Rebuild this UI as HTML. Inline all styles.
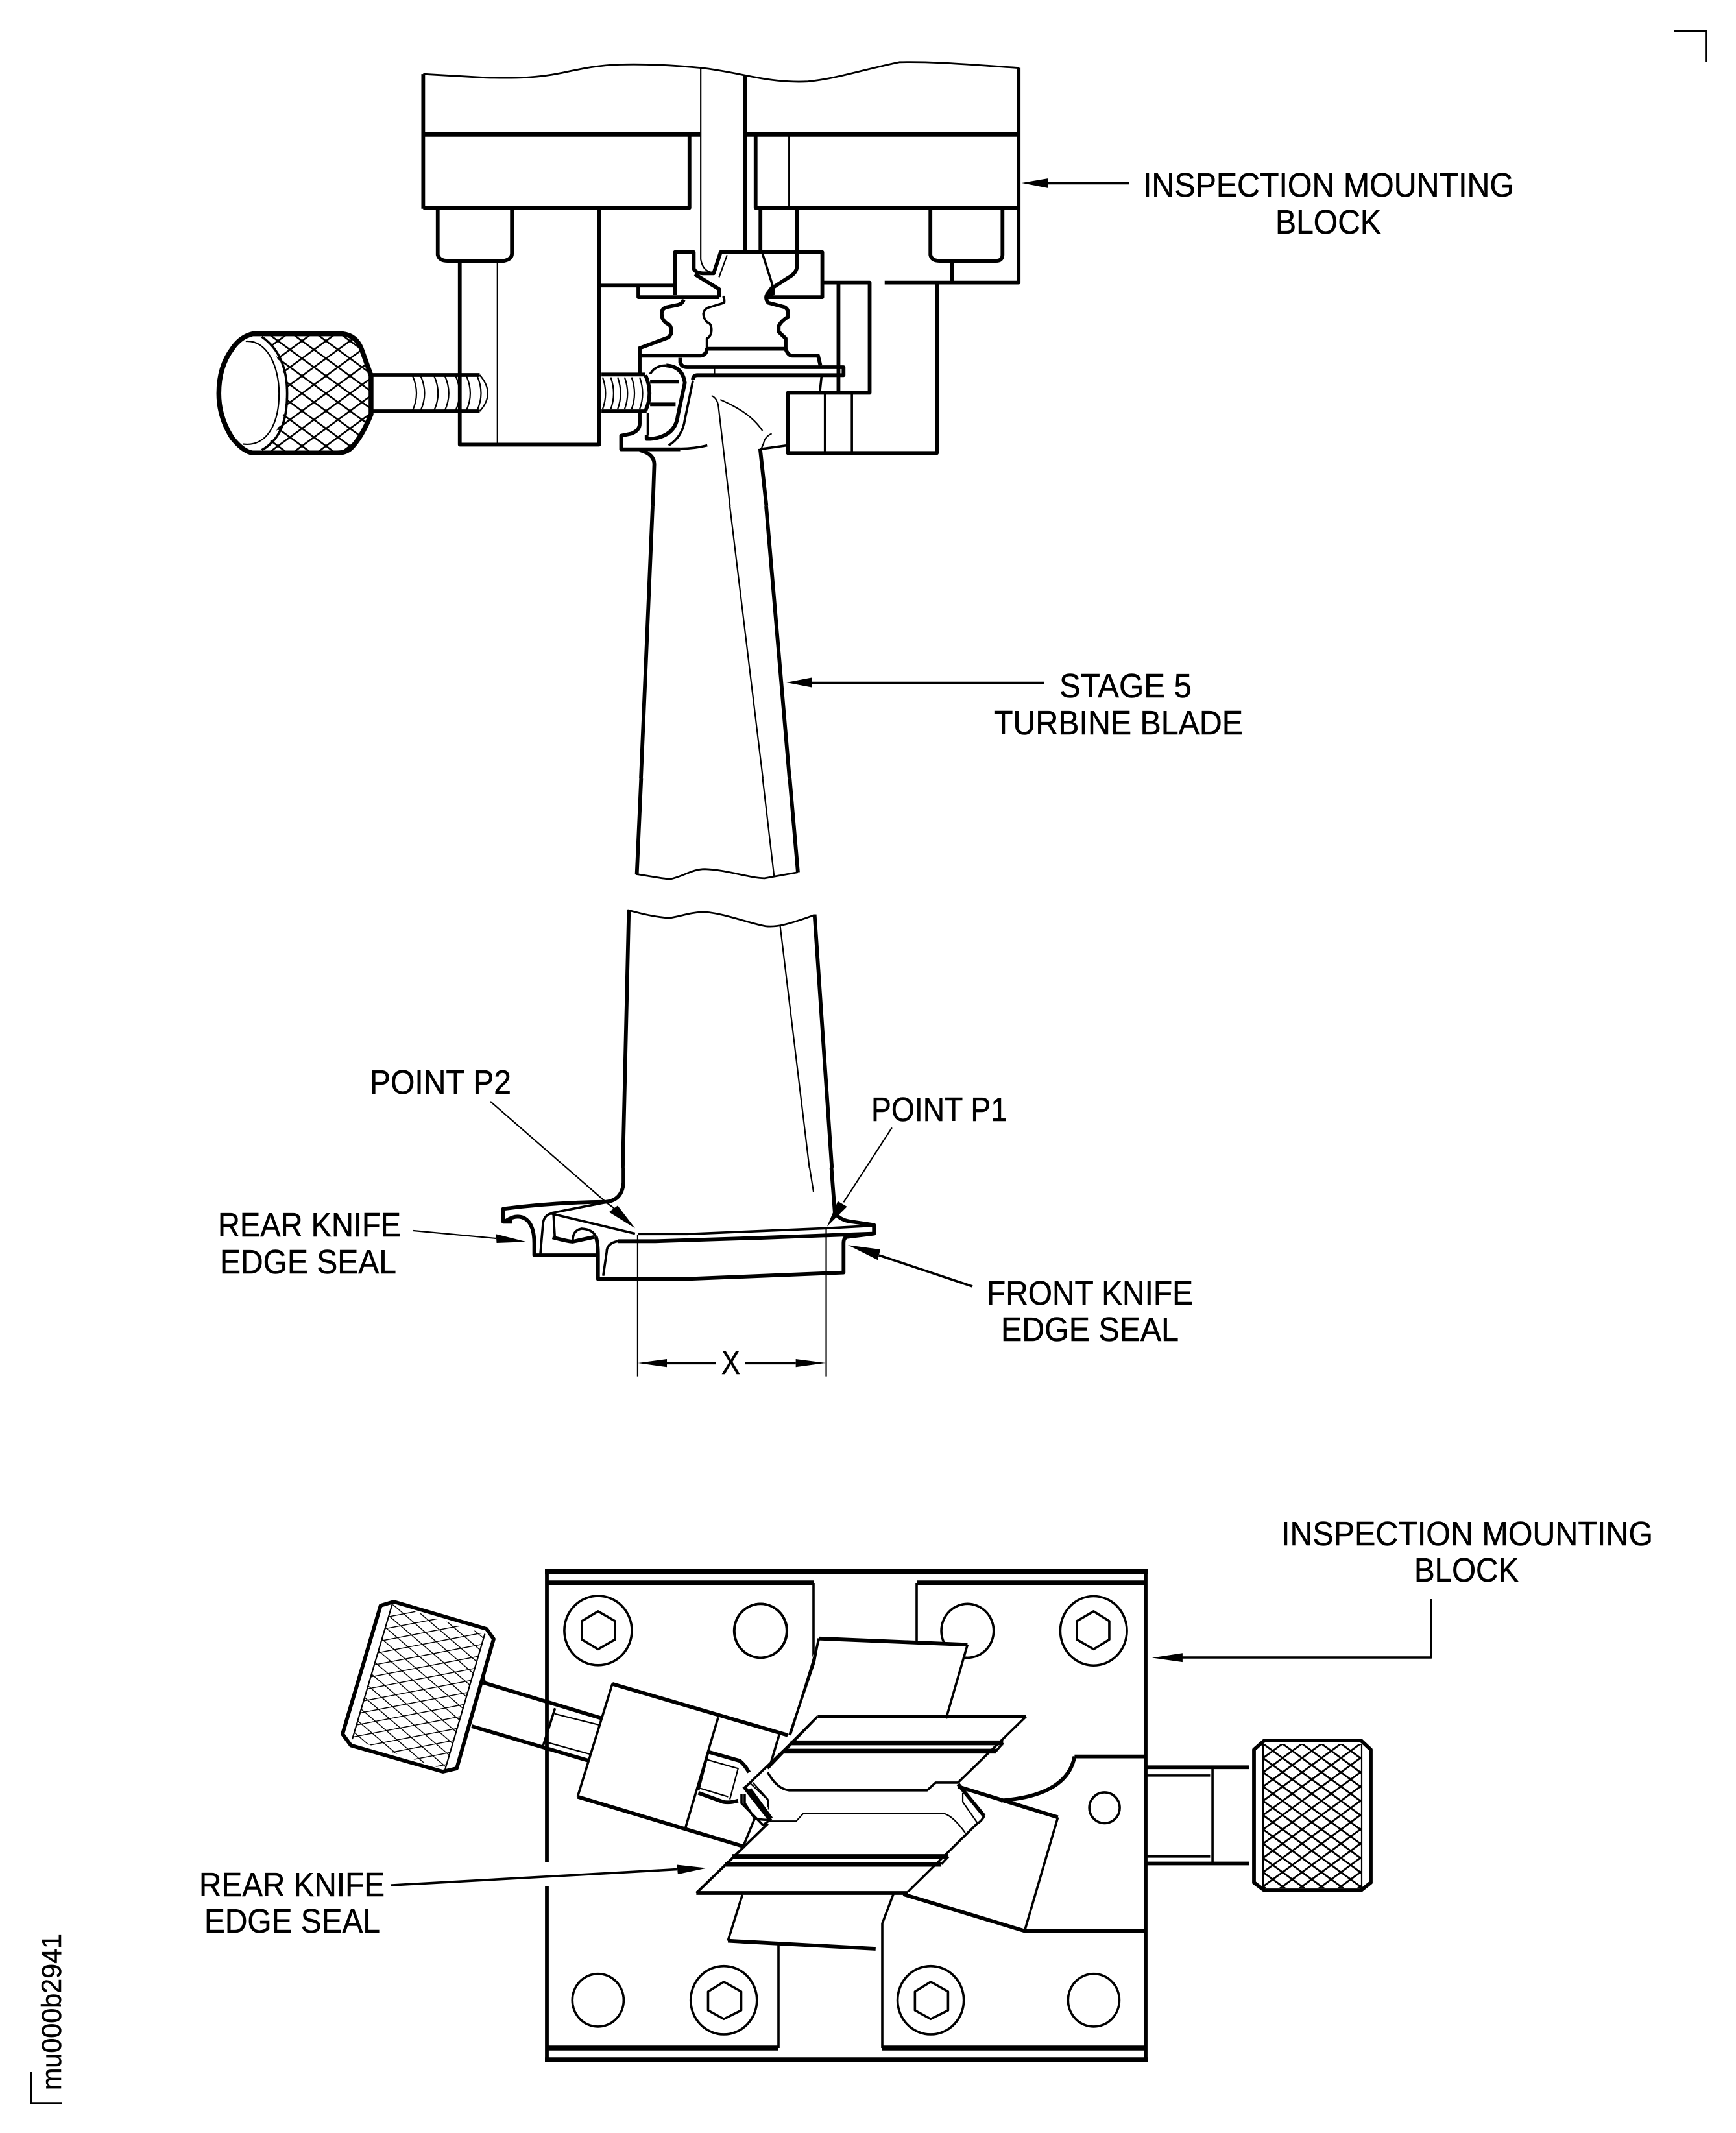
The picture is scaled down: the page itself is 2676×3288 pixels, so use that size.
<!DOCTYPE html>
<html><head><meta charset="utf-8"><title>Inspection mounting block</title>
<style>
html,body{margin:0;padding:0;background:#fff}
svg{display:block}
path,ellipse,line{vector-effect:non-scaling-stroke}
.k{fill:none;stroke:#000;stroke-width:5.8;stroke-linejoin:round}
.h{fill:none;stroke:#000;stroke-width:7.5;stroke-linejoin:round}
.m{fill:none;stroke:#000;stroke-width:3.6;stroke-linejoin:round}
.f{fill:none;stroke:#000;stroke-width:2.2;stroke-linejoin:round}
.v{fill:none;stroke:#000;stroke-width:2.8;stroke-linejoin:round}
.w{fill:#fff;stroke:none}
.a{fill:#000;stroke:none}
text{font-family:"Liberation Sans",sans-serif;font-size:52px;fill:#000;stroke:#000;stroke-width:.5}
</style></head><body>
<svg xmlns="http://www.w3.org/2000/svg" width="2676" height="3288" viewBox="0 0 2676 3288">
<defs>
<pattern id="h1" patternUnits="userSpaceOnUse" width="37" height="27" x="410" y="512"><path d="M0 0L37 27M37 0L0 27" fill="none" stroke="#000" stroke-width="2.6"/></pattern>
<pattern id="h2" patternUnits="userSpaceOnUse" width="30" height="22" x="1947" y="2688"><path d="M0 0L30 22M30 0L0 22" fill="none" stroke="#000" stroke-width="2.8"/></pattern>
<pattern id="h3" patternUnits="userSpaceOnUse" width="22" height="22" patternTransform="matrix(.98 -.187 .76 .65 604 2473)"><path d="M0 0H22M0 0V22" fill="none" stroke="#000" stroke-width="3.6"/></pattern>
</defs>
<rect width="2676" height="3288" fill="#fff"/>

<!-- corners -->
<path class="m" d="M2580 48H2630V95"/>
<path class="m" d="M48 3194V3242H95"/>
<text transform="translate(94 3222) rotate(-90)" style="font-size:43px" textLength="241" lengthAdjust="spacingAndGlyphs">mu000b2941</text>

<!-- knob top -->
<path d="M404 517H528Q548 517 557 538L572 579V639Q557 675 540 691Q535 697 528 697H404Q478 606 404 517Z" fill="url(#h1)"/>

<!-- top assembly, zoom-1 coords -->
<g transform="translate(300 60) scale(.8291 .4592)">
<path class="v" d="M425 118L540 130C600 133 640 130 680 115C720 100 750 88 790 86C850 83 900 90 940 97C980 105 1010 118 1040 128C1080 142 1110 146 1140 143C1190 135 1250 100 1310 78C1380 75 1450 88 1532 97"/>
<path class="k" d="M425 118V570M1532 97V818H1283M425 567H920V325M1043 325V567H1532M1023 120V716M1052 570V716"/>
<path class="h" d="M425 320H940M1025 320H1532"/>
<path class="f" d="M941 95V740Q945 782 965 785M1105 325V567M563 745V1362"/>
<path class="k" d="M452 570V725Q455 745 470 745H575Q590 740 590 720V570M1368 570V725Q1370 745 1385 745H1490Q1502 745 1502 725V570M1408 745V815"/>
<path class="k" d="M1120 570V760Q1120 785 1105 800L1075 835V855L1062 870M1380 818V1390H1103V1188H1255V818H1170M1197 818V1188"/>
<path class="m" d="M1172 1188V1385M1222 1188V1385M1055 716L1075 830"/>
<path class="k" d="M493 745V1362H752V570M755 828H893M825 828V867H975"/>
<path class="k" d="M893 860V716H928V770Q930 785 945 787H965L978 716H1167V867H1065M930 790L975 840V867"/>
<path class="f" d="M990 726L975 800"/>
<!-- knob -->
<path class="h" d="M108 990H275Q300 995 310 1040L328 1130V1260Q310 1340 290 1375Q280 1390 265 1390H108Q90 1385 70 1340Q45 1270 45 1190Q45 1100 70 1040Q85 1000 108 990Z"/>
<path class="f" d="M95 1015C135 1010 157 1100 157 1190C157 1290 135 1370 90 1360"/>
<path class="m" d="M125 1000C165 1050 172 1130 172 1190C172 1260 165 1340 125 1380"/>
<path class="k" d="M330 1128H530M330 1250H530"/>
<path class="f" d="M530 1128Q560 1190 530 1250M405 1130Q420 1190 405 1248M420 1130Q435 1190 420 1248M445 1130Q460 1190 445 1248M465 1130Q480 1190 465 1248M485 1130Q500 1190 485 1248M505 1130Q520 1190 505 1248M525 1130Q540 1190 525 1248"/>
</g>

<!-- root, zoom-5 coords -->
<g transform="translate(820 440) scale(.3571 .3333)">
<path class="k" d="M655 65Q650 85 630 90L585 100Q560 105 560 130Q560 165 590 180Q605 190 600 225L590 240L465 290V410M465 590V640Q465 670 430 685L385 695V758H640"/>
<path class="m" d="M640 755Q700 755 757 740"/>
<path class="k" d="M465 325H730Q755 320 755 290"/>
<path class="m" d="M755 290V245Q775 235 775 205Q775 175 755 170Q740 150 740 130Q745 105 770 100L830 80Q832 60 825 50"/>
<path class="k" d="M755 293H1095Q1105 325 1125 325H1235L1245 370M1095 290V245L1065 215V190Q1070 170 1105 145Q1110 110 1090 100L1020 80Q1005 60 1015 40L1040 5"/>
<path class="k" d="M640 335V355Q645 378 670 378H1345V415H715Q695 415 695 435"/>
<path class="f" d="M788 385V410"/>
<path class="m" d="M1250 420L1243 490"/>
<path class="m" d="M510 410Q530 370 580 370"/>
<path class="k" d="M580 370Q650 375 660 450L630 600Q620 700 510 710H495V690"/>
<path class="m" d="M500 590V690"/>
<path class="k" d="M510 445H635M510 550H620"/>
<path class="m" d="M695 440L660 620Q650 700 590 740"/>
<path class="k" d="M300 412H490M300 582H495M490 415Q525 500 490 580"/>
<path class="f" d="M305 425Q330 500 305 572M340 425Q365 500 340 572M370 425Q395 500 370 572M400 425Q425 500 400 572M430 425Q455 500 430 572M465 425Q490 500 465 572"/>
<path class="k" d="M465 762Q530 780 528 830L522 1020M985 755L1012 1020"/>
<path class="m" d="M985 757L1100 740"/>
<path class="f" d="M775 510Q800 520 805 560L855 1020M813 528C880 560 950 600 995 672M1035 685Q1005 700 1000 730L990 755"/>
</g>

<!-- blade -->
<path class="k" d="M1006 780L988 1200M1181 780L1217 1200"/>
<path class="f" d="M1125 780L1176 1200M1248 1800L1254 1837"/>
<g transform="translate(880 1200) scale(.3333 .3827)">
<path class="k" d="M325 0L305 385M1012 0L1050 378M268 530L240 1568M1127 548L1207 1568"/>
<path class="f" d="M887 0L940 395M968 595L1103 1568"/>
<path class="v" d="M300 385C380 395 430 405 460 405C520 395 560 365 620 365C720 368 820 400 895 402L1050 378M262 530L330 545C380 555 420 560 455 562C510 555 550 540 610 538C700 540 830 585 900 595C950 600 1000 590 1127 550"/>
</g>

<!-- seal, zoom-2 coords -->
<g transform="translate(720 1700) scale(.4464 .3333)">
<path class="k" d="M540 300V370Q535 450 480 458Q300 460 125 490V550H155"/>
<path class="k" d="M135 545Q175 510 205 540Q232 570 232 650V705H450M1258 300L1270 510Q1290 545 1330 550L1405 565V605L1300 622"/>
<path class="m" d="M290 510L480 460M580 605L290 512Q265 520 262 560L253 700M298 510L303 622"/>
<path class="k" d="M295 622Q345 640 365 642L440 620"/>
<path class="m" d="M365 635Q365 590 395 582Q435 585 445 620"/>
<path class="k" d="M445 620Q452 650 452 705V815H750L1300 785V650Q1300 625 1310 622M520 640H650L1000 625L1400 605"/>
<path class="m" d="M520 640Q482 650 482 690L470 800M590 607H760L1240 580L1405 568"/>
<path class="f" d="M589 610V1265M1240 580V1265"/>
<path class="m" d="M690 1204H860M960 1204H1135"/>
<path class="a" d="M590 1203L690 1185V1222ZM1238 1203L1135 1185V1222ZM580 580L490 505L520 475ZM1243 572L1280 455L1312 480ZM205 643L100 607L102 648ZM1315 658L1427 678L1418 727Z"/>
<path class="f" d="M480 460L510 490M1467 115L1300 460"/>
</g>
<path class="f" d="M756 1698L934 1853M637 1897L765 1909"/>
<path class="m" d="M1355 1935L1499 1983"/>

<!-- top and mid arrows -->
<path class="a" d="M1575 282L1616 275V290ZM1212 1052L1251 1044.500V1059.500Z"/>
<path class="m" d="M1616 282.500H1740M1251 1052.500H1609"/>

<!-- plate -->
<path class="k" d="M843 2422V2870M843 2908V3175M1766 2422V3175"/>
<path class="h" d="M840 2422.500H1769M843 2440H1254M1413 2440H1766M840 3175H1769M843 3157H1200M1360 3157H1766"/>
<path class="m" d="M1254 2440V2558M1413 2440V2530M1200 3157V2997M1360 3157V2965L1377 2920"/>

<!-- bottom bolts, zoom-7 coords -->
<g transform="translate(800 2900) scale(.6378 .3333)">
<ellipse class="m" cx="191" cy="550" rx="62" ry="122"/>
<ellipse class="m" cx="495" cy="550" rx="80" ry="158"/>
<path class="m" d="M495 465L537 510V597L495 637L457 597V510Z"/>
<ellipse class="m" cx="995" cy="550" rx="80" ry="158"/>
<path class="m" d="M995 465L1037 510V597L995 637L957 597V510Z"/>
<ellipse class="m" cx="1389" cy="550" rx="62" ry="122"/>
<path class="m" d="M540 62L505 275"/>
<path class="k" d="M505 275L862 312"/>
</g>

<!-- plate top details, zoom-4 coords -->
<g transform="translate(1000 2400) scale(.7334 .3954)">
<ellipse class="m" cx="235" cy="288" rx="55" ry="105"/>
<ellipse class="m" cx="670" cy="288" rx="55" ry="105"/>
<ellipse class="m" cx="935" cy="288" rx="70" ry="135"/>
<path class="m" d="M935 212L968 250V322L935 360L900 322V250Z"/>
<path class="w" d="M358 318L670 342L625 630H298Z"/>
<path class="k" d="M358 318L670 342"/>
<path class="m" d="M670 342L625 630M358 318L345 410L298 690"/>
<path class="k" d="M355 622H793"/>
<path class="m" d="M793 622L650 880M355 622L250 825"/>
<path class="h" d="M298 725H745M285 757H730M175 1168H630M160 1198H615"/>
<path class="m" d="M745 725L730 757M630 1168L615 1198"/>
<path class="m" d="M250 840Q270 905 295 910H585L603 880H650"/>
<path class="f" d="M250 1030H310L325 1000H620Q640 1010 665 1075M212 880L252 950V985M660 955L690 1035M660 920V955"/>
<path class="k" d="M200 895L255 1025"/>
<path class="m" d="M255 1025Q245 1040 240 1045L195 960V925"/>
<path class="k" d="M650 885L705 1010"/>
<path class="m" d="M705 1010Q700 1030 690 1040L545 1305M250 1040L100 1310"/>
<path class="k" d="M100 1310H545M535 1315L790 1458H1045M650 895L860 1015"/>
<path class="m" d="M860 1015L790 1458"/>
<path class="k" d="M895 778H1045M895 778Q880 930 740 950"/>
<ellipse class="m" cx="958" cy="978" rx="32" ry="60"/>
<path class="k" d="M1045 820H1262M1045 1195H1262"/>
<path class="m" d="M1048 852H1180M1048 1168H1180M1185 825V1190"/>
<path class="a" d="M1058 393L1122 375V410Z"/>
</g>
<!-- right knob -->
<path d="M1947 2688H2099V2910H1947Z" fill="url(#h2)"/>
<path class="k" d="M1949 2683H2098L2113 2697V2902L2098 2914H1949L1933 2902V2697Z"/>
<path class="f" d="M1947 2688V2910M2099 2688V2910"/>
<path class="m" d="M1822 2555H2206V2465"/>

<!-- left knob -->
<path d="M604.600 2473L747.400 2518.600L686 2728L543 2681Z" fill="url(#h3)"/>
<path class="k" d="M586.700 2475L607 2469L750 2511L761 2526.500L704 2726L682.600 2731L541 2690.600L528 2673Z"/>
<path class="f" d="M604.600 2473L543 2681M747.400 2518.600L686 2728"/>

<!-- left details, zoom-3 coords -->
<g transform="translate(500 2400) scale(.5102 .3954)">
<ellipse class="m" cx="827" cy="287" rx="102" ry="135"/>
<path class="m" d="M827 212L878 250V322L827 360L778 322V250Z"/>
<ellipse class="m" cx="1318" cy="288" rx="80" ry="105"/>
<path class="k" d="M480 490L835 628M445 660L800 795M870 495L1400 695M765 935L1270 1130"/>
<path class="m" d="M480 465L485 490M697 590L660 740M870 495L765 935M1190 625L1090 1060M1375 690L1345 820"/>
<path class="f" d="M697 612L830 655M665 720L805 770M1155 790L1250 825L1225 945M1130 900L1220 935M1295 880L1340 945V975"/>
<path class="k" d="M1160 760L1255 795Q1270 810 1283 840M1130 920L1205 955Q1225 960 1250 950"/>
<path class="m" d="M1160 760L1130 910M1493 318L1480 410L1405 695M1490 622L1395 745L1270 900M1340 1040L1125 1310M1265 1130L1300 1020"/>
<path class="k" d="M1285 905L1350 1020"/>
<path class="m" d="M1350 1020Q1345 1030 1300 1020L1270 960V925"/>
<path class="m" d="M200 1280L1065 1218"/>
<path class="a" d="M1155 1213L1065 1200L1068 1237Z"/>
</g>

<!-- labels -->
<text x="1762" y="303" textLength="572" lengthAdjust="spacingAndGlyphs">INSPECTION MOUNTING</text>
<text x="1966" y="360" textLength="163" lengthAdjust="spacingAndGlyphs">BLOCK</text>
<text x="1633" y="1075" textLength="204" lengthAdjust="spacingAndGlyphs">STAGE 5</text>
<text x="1532" y="1132" textLength="384" lengthAdjust="spacingAndGlyphs">TURBINE BLADE</text>
<text x="570" y="1686" textLength="218" lengthAdjust="spacingAndGlyphs">POINT P2</text>
<text x="1343" y="1728" textLength="210" lengthAdjust="spacingAndGlyphs">POINT P1</text>
<text x="336" y="1906" textLength="282" lengthAdjust="spacingAndGlyphs">REAR KNIFE</text>
<text x="339" y="1963" textLength="272" lengthAdjust="spacingAndGlyphs">EDGE SEAL</text>
<text x="1521" y="2011" textLength="318" lengthAdjust="spacingAndGlyphs">FRONT KNIFE</text>
<text x="1543" y="2067" textLength="274" lengthAdjust="spacingAndGlyphs">EDGE SEAL</text>
<text x="1112" y="2118" textLength="29" lengthAdjust="spacingAndGlyphs">X</text>
<text x="1975" y="2382" textLength="573" lengthAdjust="spacingAndGlyphs">INSPECTION MOUNTING</text>
<text x="2180" y="2438" textLength="161" lengthAdjust="spacingAndGlyphs">BLOCK</text>
<text x="307" y="2923" textLength="286" lengthAdjust="spacingAndGlyphs">REAR KNIFE</text>
<text x="315" y="2979" textLength="271" lengthAdjust="spacingAndGlyphs">EDGE SEAL</text>
</svg>
</body></html>
